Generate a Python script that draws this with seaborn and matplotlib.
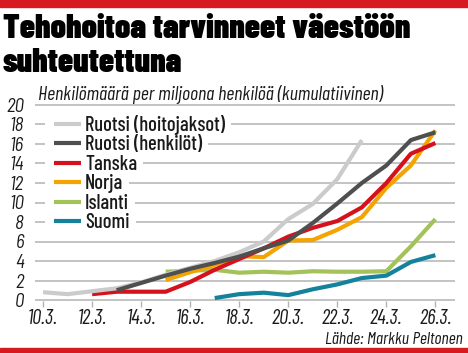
import matplotlib
matplotlib.use("Agg")
import numpy as np
import pandas as pd
import matplotlib.pyplot as plt
import seaborn as sns
from matplotlib import font_manager as fm
from matplotlib.patches import Rectangle

# ---------------- data ----------------
tick_days = [10, 12, 14, 16, 18, 20, 22, 24, 26]
tick_labels = ["10.3.", "12.3.", "14.3.", "16.3.", "18.3.", "20.3.", "22.3.", "24.3.", "26.3."]

series_names = ["Ruotsi (hoitojaksot)", "Ruotsi (henkilöt)", "Tanska", "Norja", "Islanti", "Suomi"]

ruotsi_hoito_days = list(range(10, 24))
ruotsi_hoito = [0.8, 0.6, 0.9, 1.2, 1.8, 2.6, 3.3, 4.0, 4.9, 6.0, 8.3, 9.85, 12.4, 16.4]

ruotsi_henk_days = list(range(13, 27))
ruotsi_henk = [1.0, 1.75, 2.5, 3.2, 3.8, 4.45, 5.3, 6.1, 7.9, 9.9, 12.0, 13.8, 16.4, 17.2]

tanska_days = list(range(12, 27))
tanska = [0.6, 0.85, 0.85, 0.85, 1.85, 3.1, 4.2, 5.3, 6.5, 7.4, 8.1, 9.5, 12.0, 15.0, 16.1]

norja_days = list(range(15, 27))
norja = [2.05, 2.85, 3.6, 4.5, 4.4, 6.1, 6.15, 7.2, 8.5, 11.5, 13.8, 17.4]

islanti_days = list(range(15, 27))
islanti = [2.9, 3.0, 3.1, 2.8, 2.9, 2.8, 2.95, 2.9, 2.9, 2.95, 5.5, 8.3]

suomi_days = list(range(17, 27))
suomi = [0.2, 0.6, 0.75, 0.5, 1.1, 1.6, 2.25, 2.5, 3.9, 4.6]

colors = {
    "Ruotsi (hoitojaksot)": "#cbcbcb",
    "Ruotsi (henkilöt)": "#4f4f4f",
    "Tanska": "#d5121c",
    "Norja": "#f5a300",
    "Islanti": "#a3c35a",
    "Suomi": "#15829c",
}

frames = []
for name, d, v in [
    ("Ruotsi (hoitojaksot)", ruotsi_hoito_days, ruotsi_hoito),
    ("Ruotsi (henkilöt)", ruotsi_henk_days, ruotsi_henk),
    ("Tanska", tanska_days, tanska),
    ("Norja", norja_days, norja),
    ("Islanti", islanti_days, islanti),
    ("Suomi", suomi_days, suomi),
]:
    frames.append(pd.DataFrame({"day": d, "value": v, "series": name}))
df = pd.concat(frames, ignore_index=True)

# ---------------- fonts ----------------
sns.set_theme(style="white")
installed = {f.name for f in fm.fontManager.ttflist}


def fam(*cands):
    lst = [c for c in cands if c in installed]
    return lst + ["DejaVu Sans"]


COND = fam("Barlow Condensed", "Fira Sans Condensed", "Archivo Narrow", "Liberation Sans")
SEMI = fam("Barlow Semi Condensed", "Fira Sans Condensed", "Liberation Sans")
plt.rcParams["font.family"] = COND


def FP(family, size, style="normal", weight="normal"):
    return fm.FontProperties(family=family, size=size, style=style, weight=weight)


W, H = 468, 353
fig = plt.figure(figsize=(W / 100, H / 100), dpi=100)
fig.patch.set_facecolor("white")
fig.canvas.draw()
renderer = fig.canvas.get_renderer()


def sized(fp, text, target_w):
    """Scale a font so that `text` is target_w pixels wide."""
    t = fig.text(0, 0, text, fontproperties=fp)
    w = t.get_window_extent(renderer).width
    t.remove()
    fp = fp.copy()
    fp.set_size(fp.get_size_in_points() * target_w / w)
    return fp


fp_title = sized(FP(COND, 26, weight=900), "Tehohoitoa tarvinneet väestöön", 407)
fp_sub = sized(FP(COND, 12.7, style="italic"), "Henkilömäärä per miljoona henkilöä (kumulatiivinen)", 345)
fp_xt = sized(FP(COND, 13, style="italic"), "10.3.", 30)
fp_yt = sized(FP(SEMI, 13, style="italic"), "20", 18)
fp_leg = sized(FP(COND, 13, weight=500), "Ruotsi (hoitojaksot)", 139)
fp_src = sized(FP(COND, 12, style="italic"), "Lähde: Markku Peltonen", 138)

pad_u = 0.08
ypu = 9.75
ax_bottom_px = 300 + pad_u * ypu
ax_top_px = 105 - pad_u * ypu
ax = fig.add_axes([35 / W, (H - ax_bottom_px) / H, 420 / W, (ax_bottom_px - ax_top_px) / H])
ax.set_xlim(9.67, 26.8)
ax.set_ylim(-pad_u, 20 + pad_u)

draw_order = ["Islanti", "Suomi", "Norja", "Tanska", "Ruotsi (hoitojaksot)", "Ruotsi (henkilöt)"]
for i, name in enumerate(draw_order):
    sub = df[df.series == name]
    sns.lineplot(data=sub, x="day", y="value", ax=ax, color=colors[name], lw=3.0,
                 label=name, legend=False, zorder=3 + i, solid_capstyle="butt")

ax.set_xlabel("")
ax.set_ylabel("")
for s in ax.spines.values():
    s.set_visible(False)
ax.set_yticks(range(0, 21, 2))
ax.set_yticklabels([str(v) for v in range(0, 21, 2)], fontproperties=fp_yt, color="#1a1a1a")
ax.yaxis.grid(True, color="#b3b3b3", lw=1.1)
ax.xaxis.grid(False)
ax.set_axisbelow(True)
ax.tick_params(axis="y", length=0, pad=8)
ax.set_xticks(tick_days)
ax.set_xticklabels(tick_labels, fontproperties=fp_xt, color="#1a1a1a")
ax.tick_params(axis="x", length=4.5, width=1.0, color="#b3b3b3", direction="out", pad=1.5, bottom=True)

# legend
handles = {l.get_label(): l for l in ax.get_lines()}


def make_legend(spacing, anchor_y):
    lg = ax.legend([handles[n] for n in series_names], series_names, loc="upper left",
                   bbox_to_anchor=(54 / W, 1 - anchor_y / H), bbox_transform=fig.transFigure,
                   frameon=False, borderpad=0, borderaxespad=0, handlelength=1.3,
                   handletextpad=0.22, labelspacing=spacing, prop=fp_leg)
    for t in lg.get_texts():
        t.set_color("#1a1a1a")
    for l in lg.get_lines():
        l.set_linewidth(3.0)
    lg.set_zorder(20)
    return lg


spacing, anchor_y = 0.0, 112.0
for _ in range(3):
    leg = make_legend(spacing, anchor_y)
    fig.canvas.draw()
    ys = [H - np.mean(l.get_window_extent(renderer).get_points()[:, 1]) for l in leg.get_lines()]
    step = (ys[-1] - ys[0]) / 5.0
    spacing += (19.5 - step) / fp_leg.get_size_in_points() * 0.72
    anchor_y += 123.5 - ys[0]
leg = make_legend(spacing, anchor_y)
fig.canvas.draw()

# white gaps in the gridlines behind each legend row
to_axes = ax.transAxes.inverted()
for i, (t, l) in enumerate(zip(leg.get_texts(), leg.get_lines())):
    tb = t.get_window_extent(renderer)
    lb = l.get_window_extent(renderer)
    gy = ax.transData.transform((0, 18 - 2 * i))[1]
    (x0, y0) = to_axes.transform((lb.x0 - 9, gy - 3))
    (x1, y1) = to_axes.transform((tb.x1 + 6, gy + 3))
    ax.add_patch(Rectangle((x0, y0), x1 - x0, y1 - y0, transform=ax.transAxes,
                           facecolor="white", edgecolor="none", zorder=1.5))

fig.text(3 / W, 1 - 38 / H, "Tehohoitoa tarvinneet väestöön", ha="left", va="baseline",
         fontproperties=fp_title, color="black")
fig.text(3 / W, 1 - 72 / H, "suhteutettuna", ha="left", va="baseline",
         fontproperties=fp_title, color="black")
fig.text(38 / W, 1 - 100 / H, "Henkilömäärä per miljoona henkilöä (kumulatiivinen)",
         ha="left", va="baseline", fontproperties=fp_sub, color="#1a1a1a")
fig.text(463 / W, 1 - 344 / H, "Lähde: Markku Peltonen", ha="right", va="baseline",
         fontproperties=fp_src, color="#1a1a1a")

red = "#d71920"
fig.patches.append(Rectangle((0, 1 - 7 / H), 1, 7 / H, transform=fig.transFigure, color=red, zorder=0))
fig.patches.append(Rectangle((0, 0), 1, 5 / H, transform=fig.transFigure, color=red, zorder=0))

fig.savefig("out.png", dpi=100, facecolor="white")
